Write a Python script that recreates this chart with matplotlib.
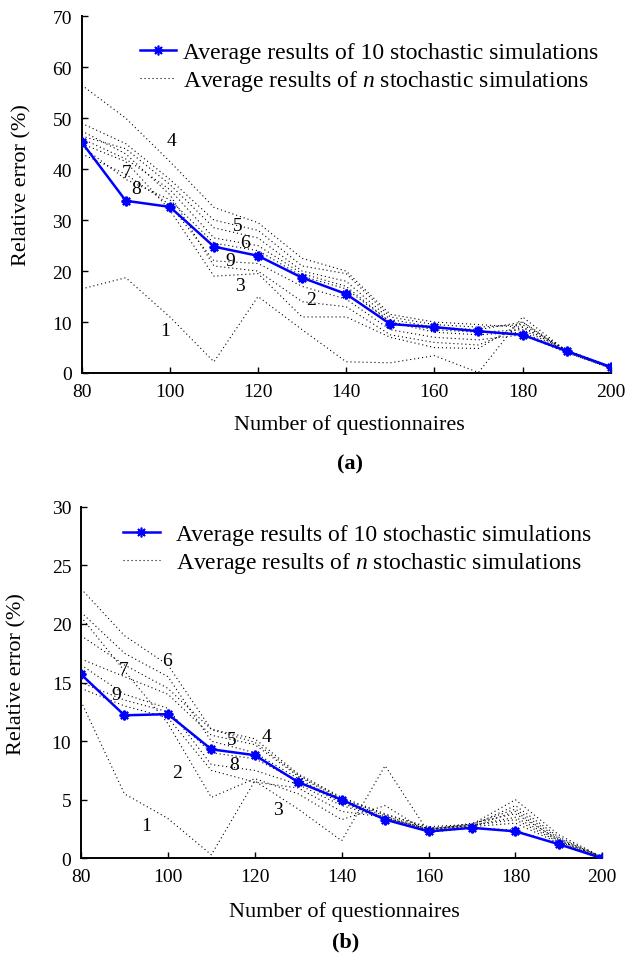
import matplotlib
matplotlib.use('Agg')
import matplotlib.pyplot as plt
from matplotlib.lines import Line2D

plt.rcParams['font.family'] = ['Liberation Serif', 'DejaVu Serif']
plt.rcParams['mathtext.fontset'] = 'custom'
plt.rcParams['mathtext.rm'] = 'Liberation Serif'
plt.rcParams['mathtext.it'] = 'Liberation Serif:italic'

questionnaires = [80, 90, 100, 110, 120, 130, 140, 150, 160, 170, 180, 190, 200]

# ---- panel (a) ----
a_avg10 = [45.3, 33.8, 32.6, 24.8, 23.0, 18.7, 15.5, 9.6, 9.0, 8.2, 7.5, 4.3, 1.2]
a_n1 = [16.5, 18.7, 11.0, 2.2, 15.0, 8.5, 2.2, 2.0, 3.4, 0.1, 11.0, 4.3, 1.0]
a_n2 = [47.5, 43.0, 35.0, 21.0, 20.0, 14.0, 13.0, 7.5, 6.0, 5.5, 9.0, 4.3, 1.0]
a_n3 = [45.0, 41.5, 32.0, 19.0, 19.5, 11.0, 11.0, 7.0, 5.0, 4.8, 10.0, 4.0, 0.9]
a_n4 = [56.5, 50.0, 41.5, 32.5, 29.5, 22.5, 20.0, 11.5, 10.0, 9.5, 9.0, 4.5, 1.2]
a_n5 = [49.0, 45.0, 38.0, 30.0, 28.0, 21.0, 19.5, 11.0, 9.5, 9.0, 9.5, 4.5, 1.2]
a_n6 = [46.5, 44.0, 37.0, 28.5, 26.5, 20.0, 18.0, 10.5, 9.0, 8.5, 10.0, 4.4, 1.1]
a_n7 = [46.0, 42.0, 36.0, 26.5, 25.0, 19.5, 17.0, 10.0, 8.5, 8.0, 8.5, 4.3, 1.1]
a_n8 = [44.5, 38.0, 34.0, 25.5, 24.0, 19.0, 16.5, 10.0, 8.0, 7.5, 8.0, 4.2, 1.0]
a_n9 = [43.0, 39.0, 33.0, 22.0, 21.5, 17.0, 14.5, 8.5, 7.0, 6.5, 7.5, 4.0, 1.0]
a_curve_labels = ['1', '2', '3', '4', '5', '6', '7', '8', '9']
a_label_x = [98.9, 132.0, 115.8, 100.4, 115.3, 117.0, 90.3, 92.4, 113.6]
a_label_y = [8.3, 14.5, 17.1, 45.6, 29.0, 25.7, 39.4, 36.2, 22.0]

# ---- panel (b) ----
b_avg10 = [15.7, 12.2, 12.3, 9.3, 8.8, 6.5, 5.0, 3.3, 2.3, 2.6, 2.3, 1.2, 0.0]
b_n1 = [13.4, 5.5, 3.4, 0.3, 6.6, 4.2, 1.5, 7.9, 2.2, 2.6, 2.4, 1.2, 0.0]
b_n2 = [20.6, 16.0, 11.5, 5.2, 6.8, 5.5, 3.3, 4.5, 2.2, 2.7, 3.0, 1.3, 0.0]
b_n3 = [14.5, 13.0, 12.0, 7.5, 6.5, 6.0, 4.0, 3.5, 2.5, 2.7, 4.0, 1.5, 0.1]
b_n4 = [19.0, 16.5, 14.5, 11.0, 10.2, 7.2, 5.2, 3.8, 2.6, 2.8, 4.5, 1.8, 0.1]
b_n5 = [17.0, 15.5, 14.0, 10.5, 9.7, 7.0, 5.0, 3.6, 2.5, 2.9, 4.2, 1.7, 0.1]
b_n6 = [23.0, 19.0, 16.5, 11.0, 9.9, 7.1, 5.1, 3.7, 2.7, 2.9, 5.0, 2.0, 0.1]
b_n7 = [21.0, 17.5, 15.5, 10.0, 9.0, 6.8, 4.8, 3.5, 2.4, 3.0, 3.8, 1.6, 0.1]
b_n8 = [16.5, 14.0, 12.8, 8.0, 7.5, 6.3, 4.5, 3.4, 2.5, 2.8, 3.5, 1.5, 0.0]
b_n9 = [15.0, 13.5, 12.5, 9.0, 8.5, 6.6, 4.7, 3.4, 2.4, 2.8, 3.3, 1.4, 0.0]
b_curve_labels = ['1', '2', '3', '4', '5', '6', '7', '8', '9']
b_label_x = [95.1, 102.2, 125.4, 122.8, 114.8, 99.9, 89.7, 115.2, 88.1]
b_label_y = [2.8, 7.3, 4.2, 10.4, 10.1, 16.9, 16.1, 8.0, 14.0]

x_ticks = [80, 100, 120, 140, 160, 180, 200]
legend_texts = ['Average results of 10 stochastic simulations',
                'Average results of $n$ stochastic simulations']
x_label = 'Number of questionnaires'
y_label = 'Relative error (%)'

W, H = 625, 962
fig = plt.figure(figsize=(W / 100, H / 100), dpi=100)


def rect(x0, y0, x1, y1):
    return [x0 / W, 1 - y1 / H, (x1 - x0) / W, (y1 - y0) / H]


BLUE = '#0000ff'
DOT = (0, (1, 2.6))


def draw(ax, avg, dotted, ymax, ystep, lab_txt, lab_x, lab_y):
    for s in dotted:
        ax.plot(questionnaires, s, color='black', lw=0.8, linestyle=DOT,
                zorder=2)
    ax.plot(questionnaires, avg, color=BLUE, lw=1.8, marker=(8, 2, 0),
            markersize=7, markeredgewidth=1.6, zorder=3)
    for t, x, y in zip(lab_txt, lab_x, lab_y):
        ax.text(x, y, t, fontsize=14, ha='center', va='center', zorder=4)
    ax.set_xlim(80, 200)
    ax.set_ylim(0, ymax)
    ax.set_xticks(x_ticks)
    ax.set_yticks(range(0, ymax + 1, ystep))
    for sp in ['top', 'right']:
        ax.spines[sp].set_visible(False)
    for sp in ['left', 'bottom']:
        ax.spines[sp].set_linewidth(1.4)
    ax.tick_params(direction='in', length=4, width=1, labelsize=14)
    ax.tick_params(axis='y', pad=7)
    ax.tick_params(axis='x', pad=7)


ax_a = fig.add_axes(rect(81.7, 17.3, 610.7, 374))
draw(ax_a, a_avg10, [a_n1, a_n2, a_n3, a_n4, a_n5, a_n6, a_n7, a_n8, a_n9],
     70, 10, a_curve_labels, a_label_x, a_label_y)

ax_b = fig.add_axes(rect(81, 507.7, 602.3, 859.3))
draw(ax_b, b_avg10, [b_n1, b_n2, b_n3, b_n4, b_n5, b_n6, b_n7, b_n8, b_n9],
     30, 5, b_curve_labels, b_label_x, b_label_y)


def legend(ax, x_px, y_px, hl, pad):
    h1 = Line2D([], [], color=BLUE, lw=1.8, marker=(8, 2, 0), markersize=7,
                markeredgewidth=1.2)
    h2 = Line2D([], [], color='black', lw=0.8, linestyle=DOT)
    ax.legend([h1, h2], legend_texts, loc='upper left',
              bbox_to_anchor=(x_px / W, 1 - y_px / H),
              bbox_transform=fig.transFigure, frameon=False, fontsize=17,
              borderpad=0, borderaxespad=0, handlelength=hl,
              handletextpad=pad, labelspacing=0.23)


legend(ax_a, 140, 42.5, 1.53, 0.31)
legend(ax_b, 123, 524.5, 1.55, 0.68)

# axis labels and panel captions
fig.text(349 / W, 1 - 425 / H, x_label, fontsize=16, ha='center', va='center')
fig.text(21.7 / W, 1 - 185 / H, y_label, fontsize=16, ha='center', va='center',
         rotation=90)
fig.text(350 / W, 1 - 464 / H, '(a)', fontsize=16, fontweight='bold',
         ha='center', va='center')

fig.text(344 / W, 1 - 912 / H, x_label, fontsize=16, ha='center', va='center')
fig.text(16.7 / W, 1 - 674 / H, y_label, fontsize=16, ha='center', va='center',
         rotation=90)
fig.text(346 / W, 1 - 942 / H, '(b)', fontsize=16, fontweight='bold',
         ha='center', va='center')

fig.savefig('out.png', dpi=100)
